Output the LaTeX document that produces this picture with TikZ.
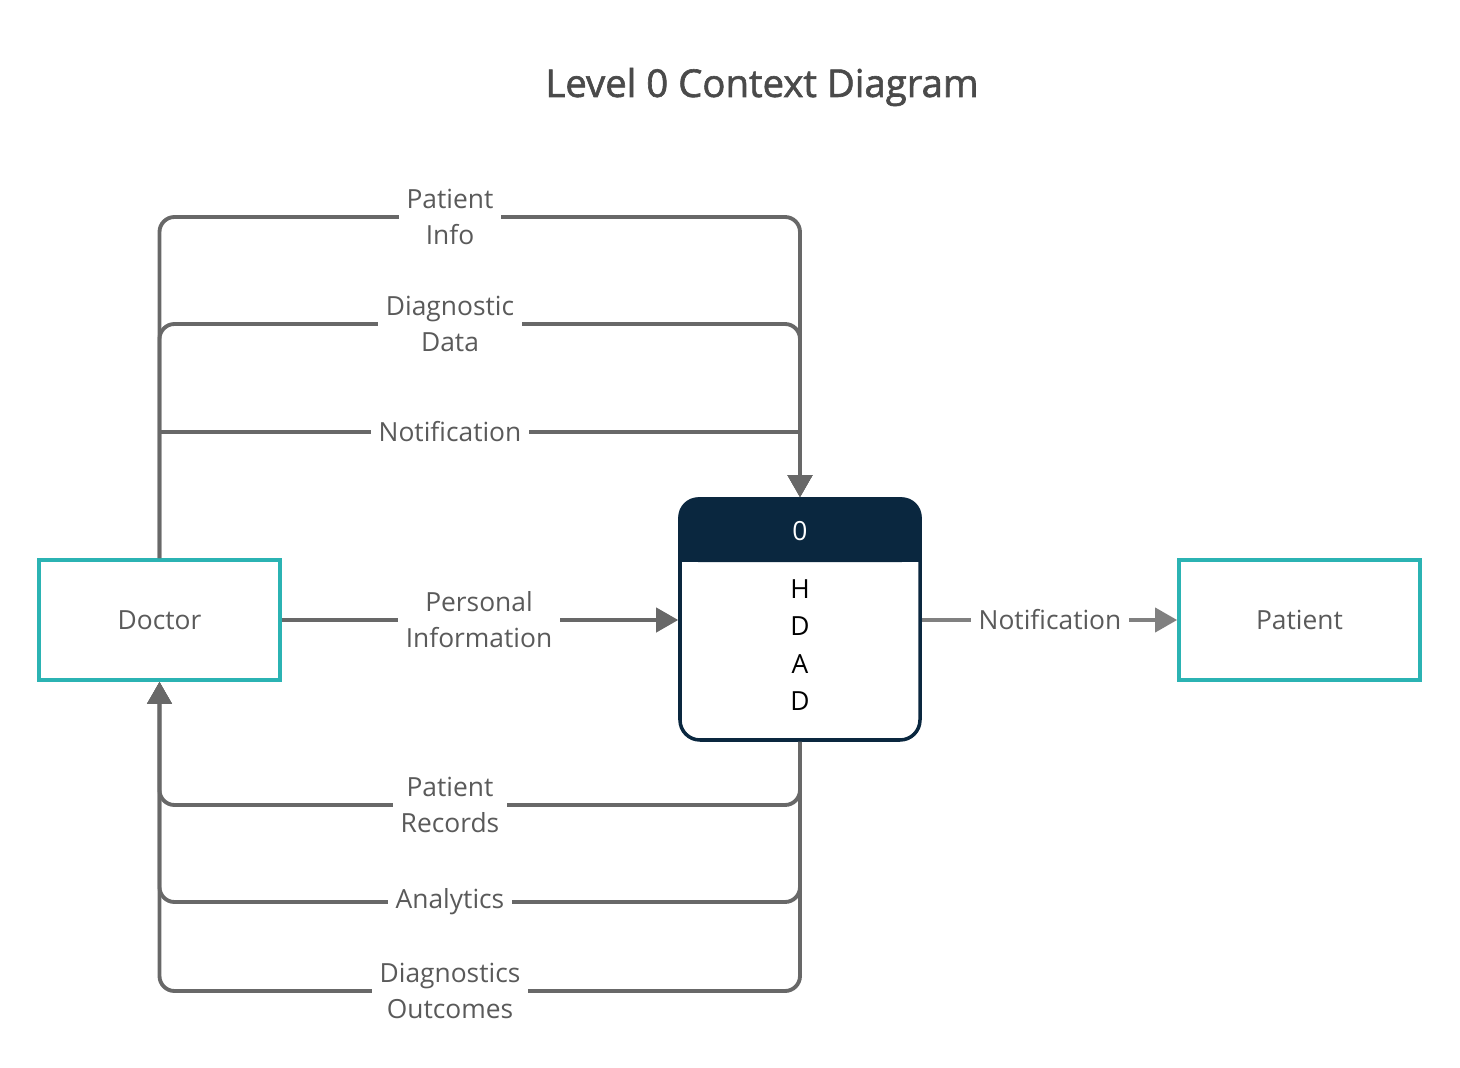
\documentclass[tikz,border=0pt]{standalone}
\usepackage{fontspec}
\setmainfont{Open Sans}
\newfontfamily\titlefont[FakeBold=1.6]{Open Sans}
\usetikzlibrary{arrows.meta,positioning}

\definecolor{teal}{HTML}{2BB3B3}
\definecolor{navy}{HTML}{0A273F}
\definecolor{flowgray}{HTML}{686868}
\definecolor{lightflow}{HTML}{808080}
\definecolor{textgray}{HTML}{5A5A5A}
\definecolor{titlegray}{HTML}{4A4A4A}

\tikzset{
  entity/.style={draw=teal, line width=1.05pt, minimum width=2.41cm, minimum height=1.2cm,
    text=textgray, font=\fontsize{7.5}{10.3}\selectfont},
  process/.style={draw=navy, line width=1pt, rounded corners=0.2cm,
    minimum width=2.4cm, minimum height=2.41cm},
  flow/.style={draw=flowgray, line width=1.1pt, -{Triangle[length=0.22cm, width=0.24cm]}},
  flowlbl/.style={fill=white, inner xsep=0.08cm, inner ysep=0.02cm, align=center,
    text=textgray, font=\fontsize{7.5}{10.3}\selectfont}
}

\begin{document}
\begin{tikzpicture}
\useasboundingbox (0, 0) rectangle (14.6, -10.68);

\node (title) at (7.62, -0.87) [text=titlegray, font=\titlefont\fontsize{10.9}{12}\selectfont] {Level 0 Context Diagram};

% entities and process
\node (doctor) at (1.595, -6.2) [entity] {Doctor};
\node (patient) at (12.995, -6.2) [entity] {Patient};
\node (hdad) at (8.0, -6.195) [process] {};
\fill [navy, rounded corners=0.2cm] (hdad.west |- 0, -5.62) -- (hdad.north west) -- (hdad.north east) -- (hdad.east |- 0, -5.62) -- cycle;
\fill [navy] ([xshift=0.3pt] hdad.west |- 0, -5.62) rectangle ([xshift=-0.3pt] hdad.east |- 0, -5.5);
\node (hdadnum) at (8.0, -5.31) [text=white, font=\fontsize{7.5}{10}\selectfont] {0};
\node (hdadtxt) at (8.0, -6.45) [align=center, font=\fontsize{7.5}{10.6}\selectfont] {H\\D\\A\\D};

% levels of the flows
\coordinate (piy) at (4.5, -2.17);
\coordinate (ddy) at (4.5, -3.24);
\coordinate (nty) at (4.5, -4.32);
\coordinate (pry) at (4.5, -8.05);
\coordinate (any) at (4.5, -9.02);
\coordinate (doy) at (4.5, -9.91);

% doctor to process
\draw [flow, rounded corners=0.15cm] (doctor.north) |- (piy) -| (hdad.north);
\draw [flow, rounded corners=0.15cm] (doctor.north) |- (ddy) -| (hdad.north);
\draw [flow] (doctor.north) |- (nty) -| (hdad.north);
\draw [flow] (doctor.east) -- (hdad.west |- doctor.east);

% process to doctor
\draw [flow, rounded corners=0.15cm] (hdad.south) |- (pry) -| (doctor.south);
\draw [flow, rounded corners=0.15cm] (hdad.south) |- (any) -| (doctor.south);
\draw [flow, rounded corners=0.15cm] (hdad.south) |- (doy) -| (doctor.south);

% process to patient
\draw [flow, draw=lightflow] (hdad.east |- patient.west) -- (patient.west);

% labels
\node (lblpi) at (piy) [flowlbl] {Patient\\Info};
\node (lbldd) at (ddy) [flowlbl] {Diagnostic\\Data};
\node (lblnt) at (nty) [flowlbl] {Notification};
\node (lblpe) at (4.79, -6.2) [flowlbl] {Personal\\Information};
\node (lblpr) at (pry) [flowlbl] {Patient\\Records};
\node (lblan) at (any) [flowlbl] {Analytics};
\node (lbldo) at (doy) [flowlbl] {Diagnostics\\Outcomes};
\node (lblnp) at (10.5, -6.2) [flowlbl] {Notification};
\end{tikzpicture}
\end{document}
